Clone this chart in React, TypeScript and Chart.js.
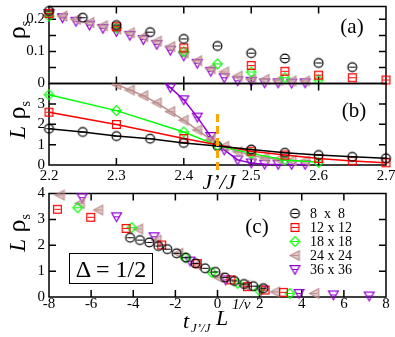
import React, { useEffect, useRef } from "react";
import { Chart, registerables } from "chart.js";
Chart.register(...registerables);

const FONT = '"Liberation Serif", "Times New Roman", serif';

// ---------- Panel (a): rho_s vs J'/J ----------
const A_X8 = [2.2, 2.25, 2.3, 2.35, 2.4, 2.45, 2.5, 2.55, 2.6, 2.65];
const A_Y8 = [0.226, 0.205, 0.182, 0.16, 0.139, 0.117, 0.0945, 0.078, 0.064, 0.051];
const A_X12 = [2.2, 2.3, 2.4, 2.5, 2.55, 2.6, 2.65, 2.7];
const A_Y12 = [0.218, 0.177, 0.111, 0.056, 0.038, 0.026, 0.018, 0.011];
const A_X18 = [2.2, 2.3, 2.4, 2.45, 2.5, 2.55, 2.6];
const A_Y18 = [0.21, 0.174, 0.099, 0.061, 0.036, 0.018, 0.011];
const A_X24 = [2.2, 2.22, 2.24, 2.26, 2.28, 2.3, 2.32, 2.34, 2.36, 2.38, 2.4, 2.42, 2.44, 2.46, 2.48, 2.5, 2.52, 2.54, 2.56, 2.58];
const A_Y24 = [0.222, 0.21, 0.2, 0.19, 0.18, 0.17, 0.158, 0.146, 0.132, 0.115, 0.095, 0.071, 0.046, 0.036, 0.023, 0.013, 0.013, 0.01, 0.008, 0.008];
const A_X36 = [2.2, 2.22, 2.24, 2.26, 2.28, 2.3, 2.32, 2.34, 2.36, 2.38, 2.4, 2.42, 2.44, 2.46, 2.48, 2.5, 2.52, 2.54, 2.56, 2.58];
const A_Y36 = [0.218, 0.205, 0.194, 0.182, 0.172, 0.162, 0.15, 0.137, 0.122, 0.104, 0.086, 0.063, 0.038, 0.018, 0.0085, 0.007, 0.002, 0.002, 0.001, 0.002];
const A_YLABELS = [0, 0.1, 0.2];
const A_YTICKS = [0.05, 0.1, 0.15, 0.2];

// ---------- Panel (b): L rho_s vs J'/J ----------
const B_X8 = [2.2, 2.25, 2.3, 2.35, 2.4, 2.45, 2.5, 2.55, 2.6, 2.65, 2.7];
const B_Y8 = [1.78, 1.62, 1.42, 1.29, 1.08, 0.93, 0.76, 0.6, 0.49, 0.4, 0.33];
const B_X12 = [2.2, 2.3, 2.4, 2.5, 2.55, 2.6, 2.65, 2.7];
const B_Y12 = [2.59, 1.99, 1.3, 0.68, 0.49, 0.32, 0.2, 0.11];
const B_X18 = [2.2, 2.3, 2.4, 2.45, 2.5, 2.55, 2.6];
const B_Y18 = [3.45, 2.67, 1.62, 0.95, 0.57, 0.24, 0.13];
const B_X24 = [2.3, 2.32, 2.34, 2.36, 2.38, 2.4, 2.42, 2.44, 2.46, 2.48, 2.5, 2.52, 2.54, 2.56, 2.58];
const B_Y24 = [3.95, 3.68, 3.4, 3.05, 2.62, 2.2, 1.72, 1.25, 0.92, 0.65, 0.48, 0.35, 0.28, 0.22, 0.2];
const B_X36 = [2.36, 2.38, 2.4, 2.42, 2.44, 2.46, 2.48, 2.5, 2.52, 2.54, 2.56, 2.58];
const B_Y36 = [4.4, 3.8, 3.2, 2.35, 1.4, 0.74, 0.25, 0.1, 0.04, 0.03, 0.03, 0.03];
const B_XLABELS = [2.2, 2.3, 2.4, 2.5, 2.6, 2.7];
const B_XTICKS = [2.3, 2.4, 2.5, 2.6];
const B_YLABELS = [0, 1, 2, 3];
const B_YTICKS = [1, 2, 3];
const J_CRIT = 2.45;
const CRIT_RANGE = [-0.25, 2.55];

// ---------- Panel (c): scaling collapse ----------
const C_X8 = [-4.15, -3.68, -3.24, -2.81, -2.38, -1.94, -1.5, -1.05, -0.59, -0.1, 0.36, 0.8, 1.26, 1.7, 2.18];
const C_Y8 = [2.29, 2.2, 2.11, 1.97, 1.85, 1.69, 1.52, 1.3, 1.11, 0.97, 0.75, 0.62, 0.5, 0.42, 0.34];
const C_X12 = [-7.6, -6.02, -4.34, -2.65, -0.96, 0.64, 1.42, 2.26, 3.13];
const C_Y12 = [3.39, 3.08, 2.65, 2.01, 1.29, 0.66, 0.4, 0.27, 0.18];
const C_X18 = [-6.64, -4.07, -1.53, -0.27, 0.96, 1.97, 3.44];
const C_Y18 = [3.45, 2.68, 1.52, 0.95, 0.53, 0.27, 0.14];
const C_X24 = [-7.48, -6.53, -5.66, -3.76, -2.89, -1.86, -0.99, 0.04, 1.3, 2.74, 4.6];
const C_Y24 = [3.94, 3.62, 3.36, 2.63, 2.2, 1.69, 1.24, 0.75, 0.45, 0.2, 0.14];
const C_X36 = [-6.43, -4.79, -3.01, -1.3, 0.39, 2.07, 3.87, 5.5, 7.2];
const C_Y36 = [3.84, 3.1, 2.33, 1.39, 0.66, 0.27, 0.14, 0.08, 0.04];
const C_XLABELS = [-8, -6, -4, -2, 0, 2, 4, 6, 8];
const C_XTICKS = [-6, -4, -2, 0, 2, 4, 6];
const C_YLABELS = [0, 1, 2, 3, 4];
const C_YTICKS = [1, 2, 3];
const LEGEND = ["8  x  8", "12 x 12", "18 x 18", "24 x 24", "36 x 36"];

const COLORS = ["#000000", "#ff0000", "#00ff00", "#bc8f8f", "#9400d3"];
const SHAPES = ["circle", "square", "diamond", "left", "down"];

function pts(xs: number[], ys: number[]) {
  return xs.map((x, i) => ({ x, y: ys[i] }));
}

function makeMarker(shape: string, stroke: string, fill: string | null) {
  const s = 13;
  const c = document.createElement("canvas");
  c.width = s;
  c.height = s;
  const g = c.getContext("2d")!;
  g.translate(6.5, 6.5);
  g.lineWidth = 1.2;
  g.strokeStyle = stroke;
  g.beginPath();
  if (shape === "circle") g.arc(0, 0, 4.4, 0, Math.PI * 2);
  else if (shape === "square") g.rect(-3.9, -3.9, 7.8, 7.8);
  else if (shape === "diamond") {
    g.moveTo(0, -4.8); g.lineTo(4.8, 0); g.lineTo(0, 4.8); g.lineTo(-4.8, 0); g.closePath();
  } else if (shape === "left") {
    g.moveTo(-4.9, 0); g.lineTo(4.3, -4.7); g.lineTo(4.3, 4.7); g.closePath();
  } else {
    g.moveTo(-4.9, -3.9); g.lineTo(4.9, -3.9); g.lineTo(0, 4.7); g.closePath();
  }
  if (fill) { g.fillStyle = fill; g.fill(); }
  g.stroke();
  g.lineWidth = 1;
  g.beginPath();
  g.moveTo(-3.2, 0); g.lineTo(3.2, 0);
  g.stroke();
  return c;
}

function makeFrame(xt: number[], yt: number[], len: number, legend?: { markers: HTMLCanvasElement[] }) {
  return {
    id: "frame",
    beforeDatasetsDraw(chart: any) {
      const { ctx, chartArea, scales } = chart;
      const { left, right, top, bottom } = chartArea;
      ctx.save();
      ctx.strokeStyle = "#000";
      ctx.lineWidth = 1.5;
      ctx.strokeRect(left, top, right - left, bottom - top);
      ctx.beginPath();
      xt.forEach((v) => {
        const p = scales.x.getPixelForValue(v);
        ctx.moveTo(p, bottom); ctx.lineTo(p, bottom - len);
        ctx.moveTo(p, top); ctx.lineTo(p, top + len);
      });
      yt.forEach((v) => {
        const p = scales.y.getPixelForValue(v);
        ctx.moveTo(left, p); ctx.lineTo(left + len, p);
        ctx.moveTo(right, p); ctx.lineTo(right - len, p);
      });
      ctx.stroke();
      ctx.restore();
    },
    afterDatasetsDraw(chart: any) {
      if (!legend) return;
      const { ctx, chartArea } = chart;
      const lx = chartArea.right - 91;
      const ly = chartArea.top + 20;
      legend.markers.forEach((m, i) => {
        ctx.drawImage(m, lx - m.width / 2, ly + i * 14 - m.height / 2);
      });
    },
  };
}

function opts(p: {
  xmin: number; xmax: number; ymin: number; ymax: number;
  xlabels: number[]; ylabels: number[]; showX: boolean;
  top: number; bottom: number; xfmt: (v: number) => string; yfmt: (v: number) => string; xpad: number;
}) {
  return {
    responsive: false,
    animation: false,
    devicePixelRatio: 1,
    events: [],
    layout: { padding: { left: 9, right: 9, top: p.top, bottom: 337 - p.bottom - 20 } },
    plugins: { legend: { display: false }, tooltip: { enabled: false } },
    scales: {
      x: {
        type: "linear",
        min: p.xmin,
        max: p.xmax,
        afterBuildTicks: (s: any) => { s.ticks = p.xlabels.map((v) => ({ value: v })); },
        afterFit: (s: any) => {
          s.height = 20; s.paddingLeft = 0; s.paddingRight = 0; s.paddingTop = 0; s.paddingBottom = 0;
        },
        ticks: {
          display: p.showX, color: "#000", padding: p.xpad, maxRotation: 0, autoSkip: false,
          font: { family: FONT, size: 15 }, callback: (v: any) => p.xfmt(Number(v)),
        },
        grid: { display: false, drawTicks: false },
        border: { display: false },
      },
      y: {
        type: "linear",
        min: p.ymin,
        max: p.ymax,
        afterBuildTicks: (s: any) => { s.ticks = p.ylabels.map((v) => ({ value: v })); },
        afterFit: (s: any) => {
          s.width = 40; s.paddingLeft = 0; s.paddingRight = 0; s.paddingTop = 0; s.paddingBottom = 0;
        },
        ticks: {
          color: "#000", padding: 4, autoSkip: false,
          font: { family: FONT, size: 15 }, callback: (v: any) => p.yfmt(Number(v)),
        },
        grid: { display: false, drawTicks: false },
        border: { display: false },
      },
    },
  };
}

function Txt(props: { x: number; y: number; size: number; italic?: boolean; anchor?: string; rotate?: boolean; children: any; style?: any }) {
  const tx = props.anchor === "left" ? "0" : "-50%";
  return (
    <div
      style={{
        position: "absolute", left: props.x, top: props.y,
        transform: `translate(${tx},-50%)` + (props.rotate ? " rotate(-90deg)" : ""),
        fontFamily: FONT, fontSize: props.size, lineHeight: 1, whiteSpace: "pre",
        fontStyle: props.italic ? "italic" : "normal", color: "#000", ...(props.style || {}),
      }}
    >
      {props.children}
    </div>
  );
}

export default function App() {
  const ra = useRef<HTMLCanvasElement>(null);
  const rb = useRef<HTMLCanvasElement>(null);
  const rc = useRef<HTMLCanvasElement>(null);

  useEffect(() => {
    const fills = [null, null, null, "rgba(188,143,143,0.45)", null];
    const M = SHAPES.map((s, i) => makeMarker(s, COLORS[i], fills[i]));
    const scatter = (xs: number[], ys: number[], i: number, line: boolean) => ({
      data: pts(xs, ys),
      showLine: line,
      borderColor: COLORS[i],
      borderWidth: 1.5,
      pointStyle: M[i],
      pointRadius: 5,
      pointHoverRadius: 5,
      clip: line ? { left: 10, right: 10, top: 0, bottom: 10 } : false,
    });
    const oneDec = (v: number) => (v === 0 ? "0" : v.toFixed(1));
    const intFmt = (v: number) => String(Math.round(v));

    const ca = new Chart(ra.current!, {
      type: "scatter",
      data: {
        datasets: [
          scatter(A_X8, A_Y8, 0, false),
          scatter(A_X12, A_Y12, 1, false),
          scatter(A_X18, A_Y18, 2, false),
          scatter(A_X24, A_Y24, 3, false),
          scatter(A_X36, A_Y36, 4, false),
        ],
      },
      options: opts({
        xmin: 2.2, xmax: 2.7, ymin: 0, ymax: 0.24, xlabels: B_XLABELS, ylabels: A_YLABELS, showX: false,
        top: 4, bottom: 83.5, xfmt: oneDec, yfmt: oneDec, xpad: 0,
      }) as any,
      plugins: [makeFrame(B_XTICKS, A_YTICKS, 7)],
    });

    const cb = new Chart(rb.current!, {
      type: "scatter",
      data: {
        datasets: [
          {
            data: [{ x: J_CRIT, y: CRIT_RANGE[0] }, { x: J_CRIT, y: CRIT_RANGE[1] }],
            showLine: true, borderColor: "#ffa500", borderWidth: 3, borderDash: [8, 4],
            pointRadius: 0, clip: { left: 10, right: 10, top: 0, bottom: 10 },
          } as any,
          scatter(B_X8, B_Y8, 0, true),
          scatter(B_X12, B_Y12, 1, true),
          scatter(B_X18, B_Y18, 2, true),
          scatter(B_X24, B_Y24, 3, true),
          scatter(B_X36, B_Y36, 4, true),
        ],
      },
      options: opts({
        xmin: 2.2, xmax: 2.7, ymin: 0, ymax: 4, xlabels: B_XLABELS, ylabels: B_YLABELS, showX: true,
        top: 83.5, bottom: 165, xfmt: (v) => v.toFixed(1), yfmt: intFmt, xpad: 2,
      }) as any,
      plugins: [makeFrame(B_XTICKS, B_YTICKS, 7)],
    });

    const cc = new Chart(rc.current!, {
      type: "scatter",
      data: {
        datasets: [
          scatter(C_X8, C_Y8, 0, false),
          scatter(C_X12, C_Y12, 1, false),
          scatter(C_X18, C_Y18, 2, false),
          scatter(C_X24, C_Y24, 3, false),
          scatter(C_X36, C_Y36, 4, false),
        ],
      },
      options: opts({
        xmin: -8, xmax: 8, ymin: 0, ymax: 4, xlabels: C_XLABELS, ylabels: C_YLABELS, showX: true,
        top: 193.5, bottom: 297, xfmt: intFmt, yfmt: intFmt, xpad: -2,
      }) as any,
      plugins: [makeFrame(C_XTICKS, C_YTICKS, 7, { markers: M })],
    });

    return () => { ca.destroy(); cb.destroy(); cc.destroy(); };
  }, []);

  const cv: any = { position: "absolute", left: 0, top: 0 };
  const sub: any = { fontSize: 14, position: "relative", top: 5, fontStyle: "normal" };

  return (
    <div style={{ position: "fixed", left: 0, top: 0, width: 395, height: 337, background: "#fff", overflow: "hidden" }}>
      <canvas ref={ra} width={395} height={337} style={cv} />
      <canvas ref={rb} width={395} height={337} style={cv} />
      <canvas ref={rc} width={395} height={337} style={cv} />

      <Txt x={352} y={26} size={21}>(a)</Txt>
      <Txt x={354} y={110} size={21}>(b)</Txt>
      <Txt x={257} y={226} size={21}>(c)</Txt>

      <Txt x={17} y={30} size={26} rotate>
        <span>ρ</span><span style={sub}>s</span>
      </Txt>
      <Txt x={17} y={120} size={26} rotate>
        <span style={{ fontStyle: "italic", fontSize: 23 }}>L</span> <span>ρ</span><span style={sub}>s</span>
      </Txt>
      <Txt x={17} y={233} size={26} rotate>
        <span style={{ fontStyle: "italic", fontSize: 23 }}>L</span> <span>ρ</span><span style={sub}>s</span>
      </Txt>

      <Txt x={219} y={182} size={22} italic>J’/J</Txt>

      <Txt x={183} y={321} size={22} italic anchor="left">t</Txt>
      <Txt x={191} y={327} size={13} italic anchor="left">J’/J</Txt>
      <Txt x={216} y={318} size={22} italic anchor="left">L</Txt>
      <Txt x={232} y={304} size={15} italic anchor="left">1/ν</Txt>

      <div
        style={{
          position: "absolute", left: 69, top: 253, width: 84, height: 31, boxSizing: "border-box",
          border: "1.5px solid #000", display: "flex", alignItems: "center", justifyContent: "center",
          fontFamily: FONT, fontSize: 24, lineHeight: 1, whiteSpace: "pre",
        }}
      >
        Δ = 1/2
      </div>

      {LEGEND.map((t, i) => (
        <Txt key={t} x={310} y={213.5 + i * 14} size={14} anchor="left">{t}</Txt>
      ))}
    </div>
  );
}
